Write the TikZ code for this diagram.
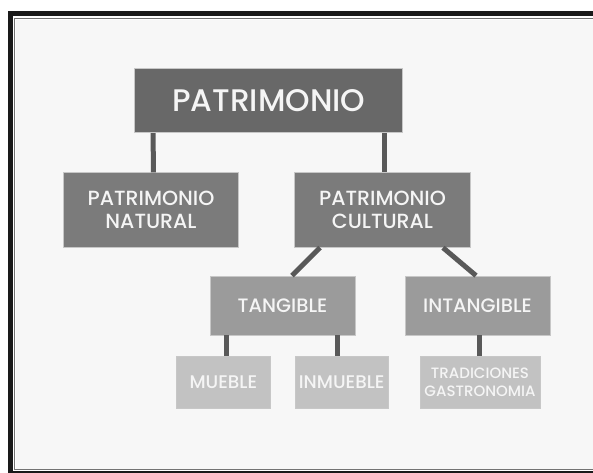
\documentclass[tikz,border=0pt]{standalone}
\usepackage{fontspec}
\setmainfont{Poppins}[UprightFont=* Medium]
\usetikzlibrary{calc}

\definecolor{marco}{HTML}{1A1A1A}
\definecolor{fondo}{HTML}{F7F7F7}
\definecolor{gris1}{HTML}{686868}
\definecolor{gris2}{HTML}{7B7B7B}
\definecolor{gris3}{HTML}{9B9B9B}
\definecolor{gris4}{HTML}{C2C2C2}
\definecolor{enlace}{HTML}{595959}

\tikzset{
  caja/.style={draw=white!78!black, line width=0.8pt, text=white!96!black, align=center, inner sep=0pt},
  nivelA/.style={caja, fill=gris1, minimum width=268pt, minimum height=64.4pt, font=\fontsize{31.2}{32}\selectfont},
  nivelB/.style={caja, fill=gris2, minimum width=175.4pt, minimum height=74.6pt, font=\fontsize{20.5}{23.3}\selectfont},
  nivelC/.style={caja, fill=gris3, minimum width=145pt, minimum height=59pt, font=\fontsize{19.4}{22}\selectfont},
  nivelD/.style={caja, fill=gris4, minimum width=93.3pt, minimum height=52.3pt, font=\fontsize{18.3}{18}\selectfont},
  enlaceL/.style={draw=enlace, line width=5pt}
}

\begin{document}
\begin{tikzpicture}[x=1pt,y=1pt,yscale=-1,xscale=1]
\useasboundingbox (0,0) rectangle (593,472);
\clip (0,0) rectangle (593,472);

%Frame
\fill [white] (0,0) rectangle (593,472);
\fill [marco] (8,11) rectangle (600,478);
\fill [white] (13,16) rectangle (597,471);
\draw [white!45!black, line width=1pt] (14.8,18.6) rectangle (597,469.6);
\fill [fondo] (15.8,19.6) rectangle (597,469);

% Boxes
\node [nivelA] (pat) at (268.7,100.5) {PATRIMONIO};
\node [nivelB] (nat) at (151,210) {PATRIMONIO\\NATURAL};
\node [nivelB] (cult) at (382.5,210) {PATRIMONIO\\CULTURAL};
\node [nivelC] (tang) at (282.5,305.5) {TANGIBLE};
\node [nivelC] (intang) at (477.5,305.5) {INTANGIBLE};
\node [nivelD] (mue) at (223.3,382.2) {MUEBLE};
\node [nivelD] (inm) at (341.7,382.2) {INMUEBLE};
\node [nivelD, minimum width=120pt, font=\fontsize{15}{17.7}\selectfont] (trad) at (480,382.2) {TRADICIONES\\GASTRONOMIA};

% Links
\draw [enlaceL] ($(pat.south)+(-115.5,0)$) -- ($(nat.north)+(2.3,0)$);
\draw [enlaceL] ($(pat.south)+(115.3,0)$) -- ($(cult.north)+(1.5,0)$);
\draw [enlaceL] ($(cult.south)+(-62.5,0)$) -- ($(tang.north)+(9.5,0)$);
\draw [enlaceL] ($(cult.south)+(60.5,0)$) -- ($(intang.north)+(-1.5,0)$);
\draw [enlaceL] ($(tang.south)+(-55.8,0)$) -- ($(mue.north)+(3.4,0)$);
\draw [enlaceL] ($(tang.south)+(55.2,0)$) -- ($(inm.north)+(-4,0)$);
\draw [enlaceL] ($(intang.south)+(1.5,0)$) -- ($(trad.north)+(-1,0)$);

\end{tikzpicture}
\end{document}
